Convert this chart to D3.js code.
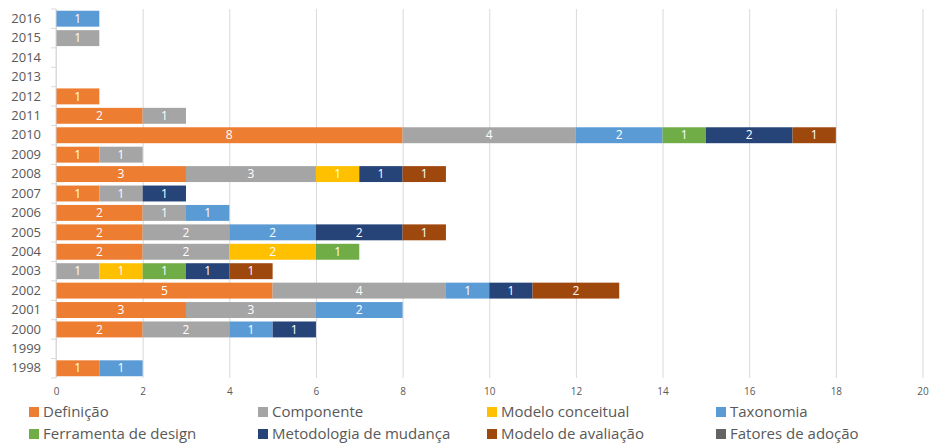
<!DOCTYPE html>
<html>
<head>
<meta charset="utf-8">
<script src="https://cdn.jsdelivr.net/npm/d3@7"></script>
<style>
  body { margin: 0; background: #fff; }
  text { font-family: "Open Sans", "Liberation Sans", sans-serif; }
</style>
</head>
<body>
<div id="chart"></div>
<script>
// dados: anos de 1998 a 2016
var anos = [1998, 1999, 2000, 2001, 2002, 2003, 2004, 2005, 2006, 2007,
            2008, 2009, 2010, 2011, 2012, 2013, 2014, 2015, 2016];

var series = ["Definição", "Componente", "Modelo conceitual", "Taxonomia",
              "Ferramenta de design", "Metodologia de mudança", "Modelo de avaliação", "Fatores de adoção"];
var cores = ["#ED7D31", "#A5A5A5", "#FFC000", "#5B9BD5", "#70AD47", "#264478", "#9E480E", "#636363"];

//            98 99 00 01 02 03 04 05 06 07 08 09 10 11 12 13 14 15 16
var definicao   = [1, 0, 2, 3, 5, 0, 2, 2, 2, 1, 3, 1, 8, 2, 1, 0, 0, 0, 0];
var componente  = [0, 0, 2, 3, 4, 1, 2, 2, 1, 1, 3, 1, 4, 1, 0, 0, 0, 1, 0];
var modeloConc  = [0, 0, 0, 0, 0, 1, 2, 0, 0, 0, 1, 0, 0, 0, 0, 0, 0, 0, 0];
var taxonomia   = [1, 0, 1, 2, 1, 0, 0, 2, 1, 0, 0, 0, 2, 0, 0, 0, 0, 0, 1];
var ferramenta  = [0, 0, 0, 0, 0, 1, 1, 0, 0, 0, 0, 0, 1, 0, 0, 0, 0, 0, 0];
var metodologia = [0, 0, 1, 0, 1, 1, 0, 2, 0, 1, 1, 0, 2, 0, 0, 0, 0, 0, 0];
var avaliacao   = [0, 0, 0, 0, 2, 1, 0, 1, 0, 0, 1, 0, 1, 0, 0, 0, 0, 0, 0];
var fatores     = [0, 0, 0, 0, 0, 0, 0, 0, 0, 0, 0, 0, 0, 0, 0, 0, 0, 0, 0];

var xTicks = [0, 2, 4, 6, 8, 10, 12, 14, 16, 18, 20];

var valores = [definicao, componente, modeloConc, taxonomia, ferramenta, metodologia, avaliacao, fatores];

var linhas = anos.map(function(a, i) {
    var o = { ano: a };
    series.forEach(function(s, j) { o[s] = valores[j][i]; });
    return o;
});

var width = 930, height = 443;
var margin = { left: 56, right: 8, top: 9, bottom: 65 };
var plotW = 922.5 - margin.left, plotH = 378 - margin.top;

var svg = d3.select("#chart").append("svg")
    .attr("width", width)
    .attr("height", height);

var g = svg.append("g").attr("transform", "translate(" + margin.left + "," + margin.top + ")");

var x = d3.scaleLinear().domain([0, 20]).range([0, plotW]);
var y = d3.scaleBand().domain(anos.slice().reverse()).range([0, plotH]).paddingInner(0.18).paddingOuter(0.09);

// grade vertical
g.append("g")
    .attr("class", "grade")
    .call(d3.axisBottom(x).tickValues(xTicks).tickSize(plotH).tickFormat(""))
    .call(function(s) {
        s.select(".domain").remove();
        s.selectAll("line").attr("stroke", "#d9d9d9").attr("stroke-width", 1);
    });

// rótulos do eixo x
g.append("g")
    .attr("transform", "translate(0," + plotH + ")")
    .call(d3.axisBottom(x).tickValues(xTicks).tickSize(0).tickPadding(10))
    .call(function(s) {
        s.select(".domain").remove();
        s.selectAll("text").attr("fill", "#595959").style("font-size", "10px");
    });

// barras empilhadas
var pilha = d3.stack().keys(series)(linhas);

var camadas = g.selectAll(".serie")
    .data(pilha)
    .enter().append("g")
    .attr("fill", function(d, i) { return cores[i]; });

camadas.selectAll("rect")
    .data(function(d) { return d.filter(function(p) { return p[1] - p[0] > 0; }); })
    .enter().append("rect")
    .attr("x", function(d) { return x(d[0]); })
    .attr("y", function(d) { return y(d.data.ano); })
    .attr("width", function(d) { return x(d[1]) - x(d[0]); })
    .attr("height", y.bandwidth());

camadas.selectAll("text")
    .data(function(d) { return d.filter(function(p) { return p[1] - p[0] > 0; }); })
    .enter().append("text")
    .attr("x", function(d) { return (x(d[0]) + x(d[1])) / 2; })
    .attr("y", function(d) { return y(d.data.ano) + y.bandwidth() / 2; })
    .attr("dy", "0.35em")
    .attr("text-anchor", "middle")
    .attr("fill", "#fff")
    .style("font-size", "12px")
    .text(function(d) { return d[1] - d[0]; });

// eixo y
var ySteps = anos.length;
var passo = plotH / ySteps;
g.append("line")
    .attr("x1", 0).attr("x2", 0).attr("y1", 0).attr("y2", plotH)
    .attr("stroke", "#d9d9d9");
for (var k = 0; k <= ySteps; k++) {
    g.append("line")
        .attr("x1", -5).attr("x2", 0)
        .attr("y1", k * passo).attr("y2", k * passo)
        .attr("stroke", "#d9d9d9");
}
g.append("g")
    .call(d3.axisLeft(y).tickSize(0).tickPadding(15))
    .call(function(s) {
        s.select(".domain").remove();
        s.selectAll("text").attr("fill", "#595959").style("font-size", "13px");
    });

// legenda
var legenda = svg.append("g");
series.forEach(function(s, i) {
    var col = i % 4, lin = Math.floor(i / 4);
    var lx = 29 + col * 229, ly = 407 + lin * 22;
    legenda.append("rect").attr("x", lx).attr("y", ly).attr("width", 10).attr("height", 10).attr("fill", cores[i]);
    legenda.append("text").attr("x", lx + 14).attr("y", ly + 5).attr("dy", "0.32em")
        .attr("fill", "#595959").style("font-size", "15px").text(s);
});
</script>
</body>
</html>
